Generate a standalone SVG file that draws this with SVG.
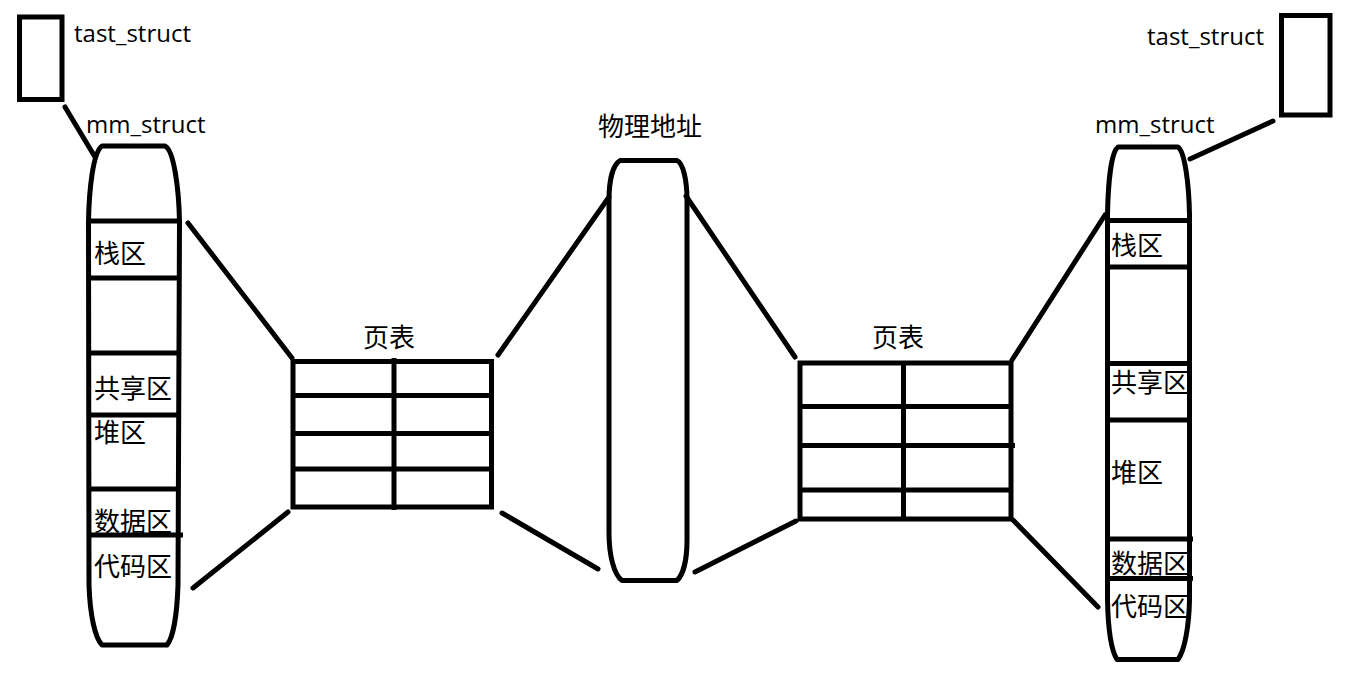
<svg xmlns="http://www.w3.org/2000/svg" width="1350" height="685" viewBox="0 0 1350 685">
<style>
.s{fill:none;stroke:#000;stroke-width:5;stroke-linecap:round;stroke-linejoin:round}
.b{fill:none;stroke:#000;stroke-width:5;stroke-linecap:butt;stroke-linejoin:miter}
.en{font-family:"Open Sans","Noto Sans",sans-serif;font-size:24px;fill:#000}
.zh{font-family:"Noto Sans CJK SC","Noto Sans",sans-serif;font-size:26px;fill:#000}
</style>
<rect width="1350" height="685" fill="#fff"/>
<g id="task-left">
<rect class="b" x="19.5" y="17" width="42.5" height="82.5"/>
<text class="en" x="74" y="42">tast_struct</text>
</g>
<g id="mm-left">
<text class="en" x="86" y="133">mm_struct</text>
<path class="s" d="M102,146 L165,146 C174,150 179,190 179.5,222 L178,585 C177,615 173,638 167,645 L102,645 C95,638 90,615 89,585 L88.5,222 C89,190 93,152 102,146 Z"/>
<path class="b" d="M88,221 H180 M88,278 H180 M88,353 H180 M88,415 H180 M88,489 H180 M88,535 H183"/>
<text class="zh" x="94" y="263">栈区</text>
<text class="zh" x="94" y="398">共享区</text>
<text class="zh" x="94" y="442">堆区</text>
<text class="zh" x="94" y="531">数据区</text>
<text class="zh" x="94" y="576">代码区</text>
</g>
<g id="pagetable-left">
<text class="zh" x="389" y="347" text-anchor="middle">页表</text>
<rect class="b" x="293" y="361.5" width="198.5" height="145.5"/>
<path class="b" d="M293,395.5 H491.5 M293,433.5 H491.5 M293,469 H494 M394,358 V510"/>
</g>
<g id="physical">
<text class="zh" x="650" y="136" text-anchor="middle">物理地址</text>
<path class="s" d="M620,160.5 L677,160.5 C683,163 687,180 687,200 L687,540 C687,560 683,575 677,580.5 L622,580.5 C614,575 609,555 609,533 L609,200 C609,180 613,165 620,160.5 Z"/>
</g>
<g id="pagetable-right">
<text class="zh" x="898" y="347" text-anchor="middle">页表</text>
<rect class="b" x="800" y="363" width="211" height="156"/>
<path class="b" d="M800,406.5 H1011 M800,445.5 H1015 M800,490 H1011 M903.5,363 V519"/>
</g>
<g id="mm-right">
<text class="en" x="1095" y="133">mm_struct</text>
<path class="s" d="M1118,147 L1178,147 C1185,152 1189,185 1189.5,215 L1189.5,600 C1189,625 1185,650 1178,659.5 L1117,659.5 C1111,650 1108,625 1107.5,600 L1107.5,215 C1108,185 1111,152 1118,147 Z"/>
<path class="b" d="M1107,220.5 H1190 M1107,267 H1190 M1107,363.5 H1190 M1107,420 H1190 M1107,539 H1193 M1107,578.5 H1193"/>
<text class="zh" x="1111" y="255">栈区</text>
<text class="zh" x="1111" y="392">共享区</text>
<text class="zh" x="1111" y="482">堆区</text>
<text class="zh" x="1111" y="573">数据区</text>
<text class="zh" x="1111" y="616">代码区</text>
</g>
<g id="task-right">
<rect class="b" x="1281.5" y="15.5" width="48.5" height="99.5"/>
<text class="en" x="1147" y="45">tast_struct</text>
</g>
<g id="connectors">
<line class="s" x1="65" y1="107" x2="95" y2="157"/>
<line class="s" x1="188" y1="223" x2="292" y2="358"/>
<line class="s" x1="193" y1="588" x2="288" y2="512"/>
<line class="s" x1="498" y1="355" x2="609" y2="197"/>
<line class="s" x1="502" y1="513" x2="598" y2="569"/>
<line class="s" x1="686" y1="196" x2="795" y2="357"/>
<line class="s" x1="695" y1="572" x2="796" y2="521"/>
<line class="s" x1="1012" y1="360" x2="1105" y2="215"/>
<line class="s" x1="1013" y1="520" x2="1098" y2="607"/>
<line class="s" x1="1190" y1="159" x2="1273" y2="121"/>
</g>
</svg>
